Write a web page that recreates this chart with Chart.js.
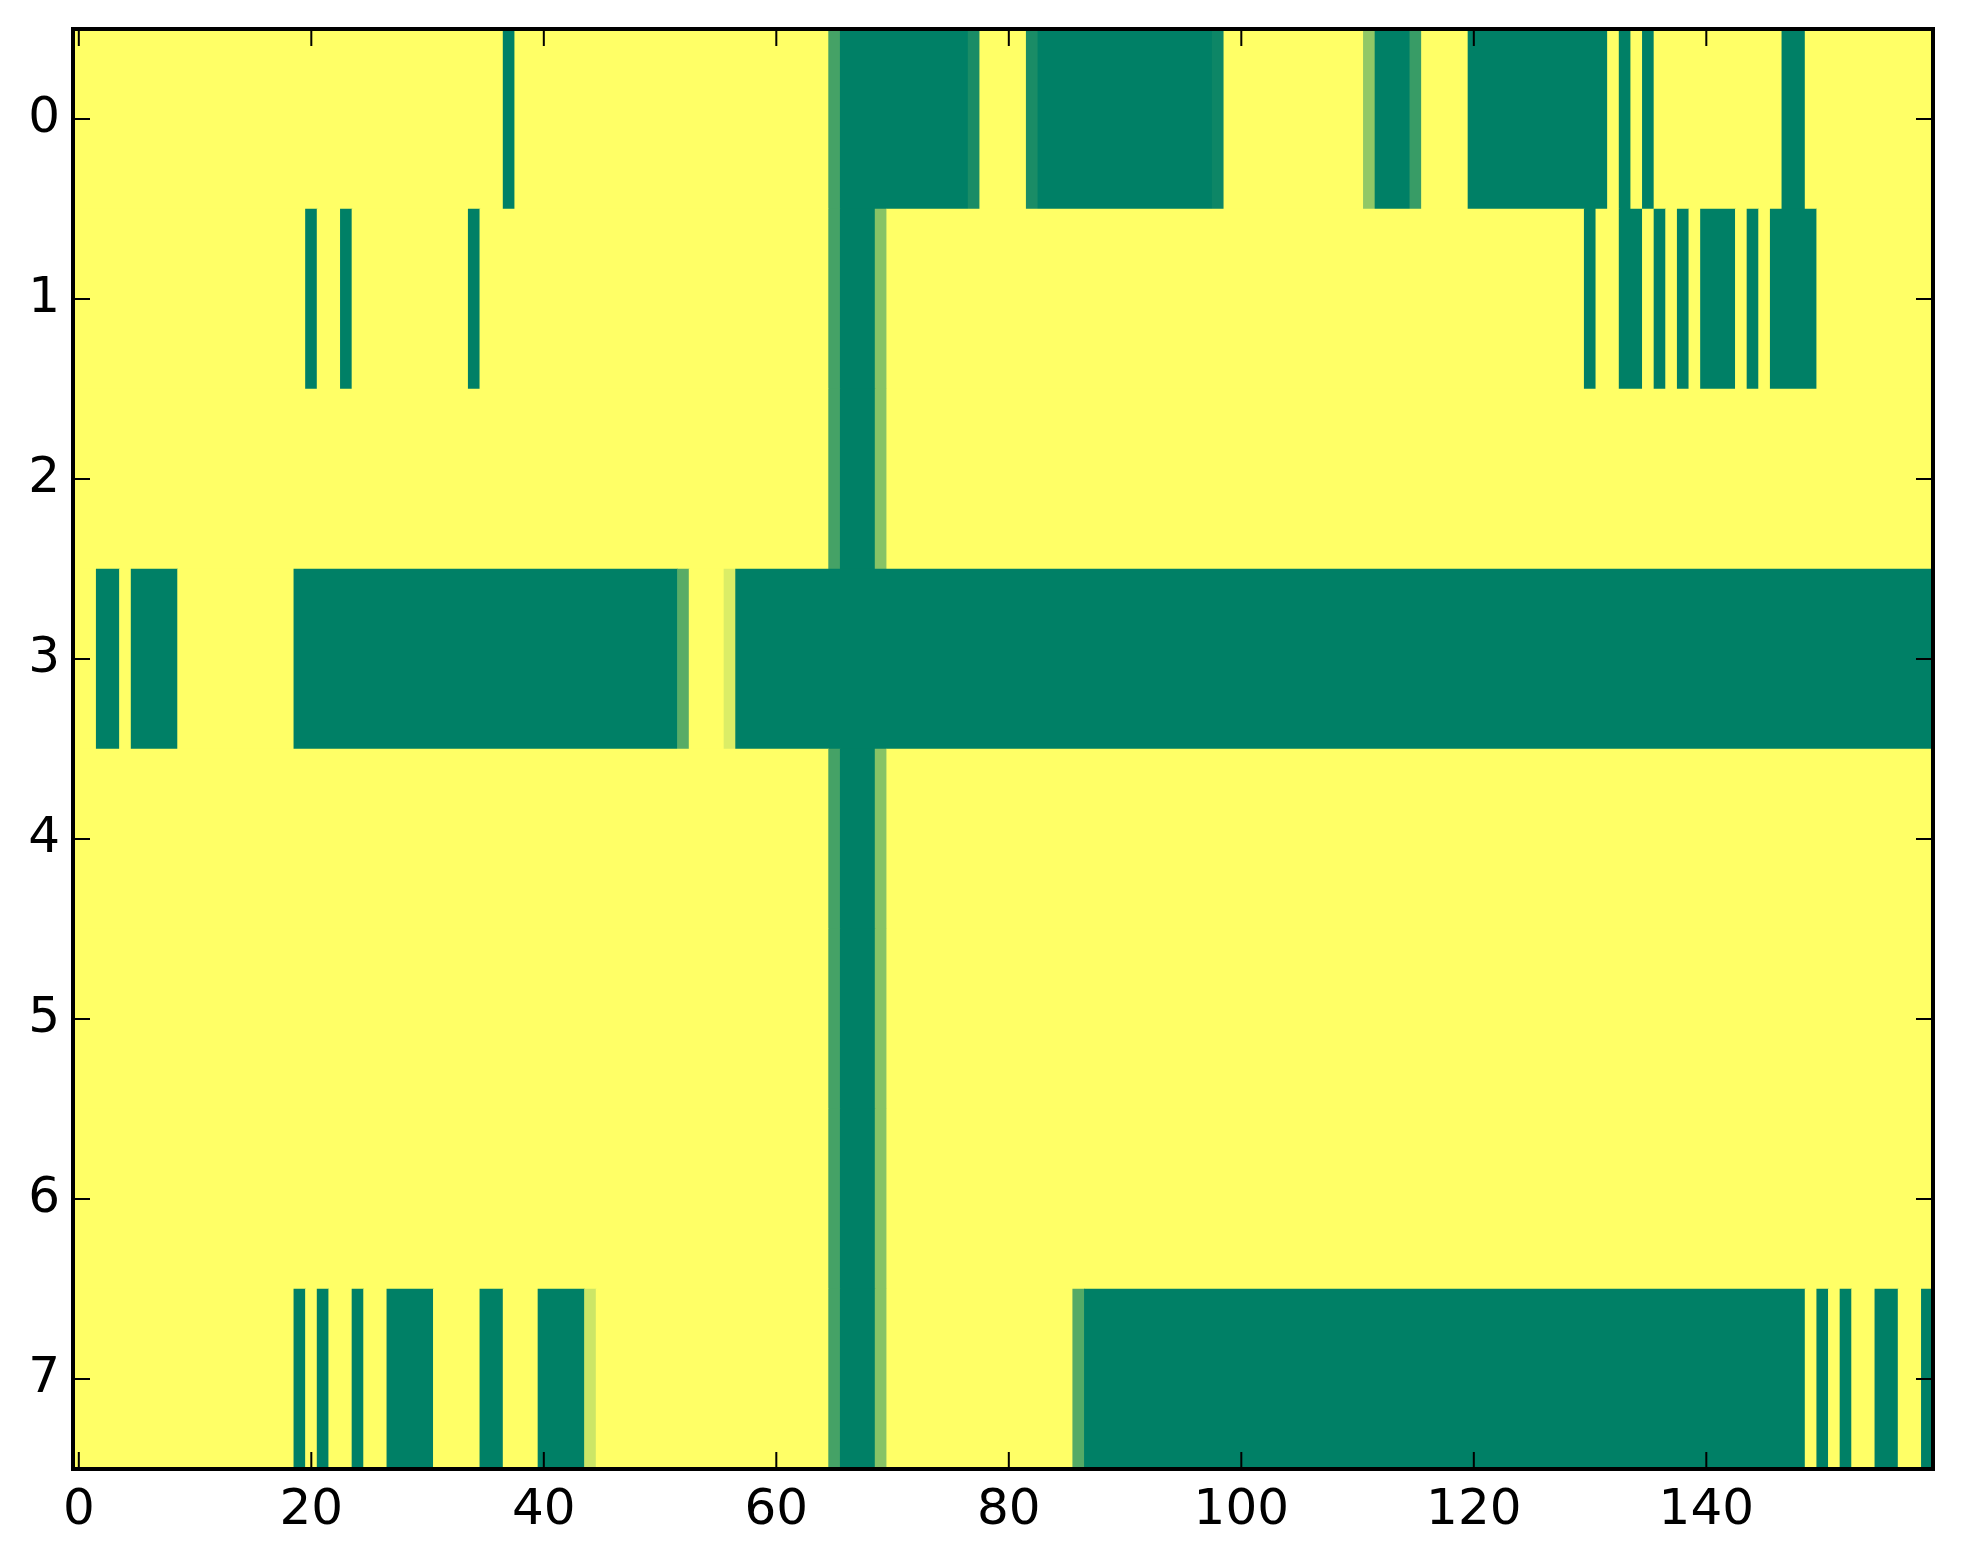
<!DOCTYPE html>
<html>
<head>
<meta charset="utf-8">
<title>heatmap</title>
<script src="https://cdn.jsdelivr.net/npm/chart.js@4.4.1/dist/chart.umd.min.js"></script>
<style>
  html, body { margin: 0; padding: 0; background: #fff; }
  #wrap { width: 1963px; height: 1564px; }
</style>
</head>
<body>
<div id="wrap"><canvas id="heat" width="1963" height="1564"></canvas></div>
<script>
// row labels and tick positions
const rowLabels = ['0', '1', '2', '3', '4', '5', '6', '7'];
const xTicks = [0, 20, 40, 60, 80, 100, 120, 140];
const yTicks = [0, 1, 2, 3, 4, 5, 6, 7];

// one array per row, 160 columns each (20 per line)
const row0 = [
  1,1,1,1,1,1,1,1,1,1, 1,1,1,1,1,1,1,1,1,1,
  1,1,1,1,1,1,1,1,1,1, 1,1,1,1,1,1,1,0,1,1,
  1,1,1,1,1,1,1,1,1,1, 1,1,1,1,1,1,1,1,1,1,
  1,1,1,1,1,0.27,0,0,0,0, 0,0,0,0,0,0,0,0.1,1,1,
  1,1,0.1,0,0,0,0,0,0,0, 0,0,0,0,0,0,0,0,0.05,1,
  1,1,1,1,1,1,1,1,1,1, 1,0.57,0,0,0,0.22,1,1,1,1,
  0,0,0,0,0,0,0,0,0,0, 0,0,1,0,1,0,1,1,1,1,
  1,1,1,1,1,1,1,0,0,1, 1,1,1,1,1,1,1,1,1,1
];
const row1 = [
  1,1,1,1,1,1,1,1,1,1, 1,1,1,1,1,1,1,1,1,1,
  0,1,1,0,1,1,1,1,1,1, 1,1,1,1,0,1,1,1,1,1,
  1,1,1,1,1,1,1,1,1,1, 1,1,1,1,1,1,1,1,1,1,
  1,1,1,1,1,0.27,0,0,0,0.53, 1,1,1,1,1,1,1,1,1,1,
  1,1,1,1,1,1,1,1,1,1, 1,1,1,1,1,1,1,1,1,1,
  1,1,1,1,1,1,1,1,1,1, 1,1,1,1,1,1,1,1,1,1,
  1,1,1,1,1,1,1,1,1,1, 0,1,1,0,0,1,0,1,0,1,
  0,0,0,1,0,1,0,0,0,0, 1,1,1,1,1,1,1,1,1,1
];
const row2 = [
  1,1,1,1,1,1,1,1,1,1, 1,1,1,1,1,1,1,1,1,1,
  1,1,1,1,1,1,1,1,1,1, 1,1,1,1,1,1,1,1,1,1,
  1,1,1,1,1,1,1,1,1,1, 1,1,1,1,1,1,1,1,1,1,
  1,1,1,1,1,0.27,0,0,0,0.53, 1,1,1,1,1,1,1,1,1,1,
  1,1,1,1,1,1,1,1,1,1, 1,1,1,1,1,1,1,1,1,1,
  1,1,1,1,1,1,1,1,1,1, 1,1,1,1,1,1,1,1,1,1,
  1,1,1,1,1,1,1,1,1,1, 1,1,1,1,1,1,1,1,1,1,
  1,1,1,1,1,1,1,1,1,1, 1,1,1,1,1,1,1,1,1,1
];
const row3 = [
  1,1,0,0,1,0,0,0,0,1, 1,1,1,1,1,1,1,1,1,0,
  0,0,0,0,0,0,0,0,0,0, 0,0,0,0,0,0,0,0,0,0,
  0,0,0,0,0,0,0,0,0,0, 0,0,0.35,1,1,1,0.86,0,0,0,
  0,0,0,0,0,0,0,0,0,0, 0,0,0,0,0,0,0,0,0,0,
  0,0,0,0,0,0,0,0,0,0, 0,0,0,0,0,0,0,0,0,0,
  0,0,0,0,0,0,0,0,0,0, 0,0,0,0,0,0,0,0,0,0,
  0,0,0,0,0,0,0,0,0,0, 0,0,0,0,0,0,0,0,0,0,
  0,0,0,0,0,0,0,0,0,0, 0,0,0,0,0,0,0,0,0,0
];
const row4 = [
  1,1,1,1,1,1,1,1,1,1, 1,1,1,1,1,1,1,1,1,1,
  1,1,1,1,1,1,1,1,1,1, 1,1,1,1,1,1,1,1,1,1,
  1,1,1,1,1,1,1,1,1,1, 1,1,1,1,1,1,1,1,1,1,
  1,1,1,1,1,0.27,0,0,0,0.53, 1,1,1,1,1,1,1,1,1,1,
  1,1,1,1,1,1,1,1,1,1, 1,1,1,1,1,1,1,1,1,1,
  1,1,1,1,1,1,1,1,1,1, 1,1,1,1,1,1,1,1,1,1,
  1,1,1,1,1,1,1,1,1,1, 1,1,1,1,1,1,1,1,1,1,
  1,1,1,1,1,1,1,1,1,1, 1,1,1,1,1,1,1,1,1,1
];
const row5 = [
  1,1,1,1,1,1,1,1,1,1, 1,1,1,1,1,1,1,1,1,1,
  1,1,1,1,1,1,1,1,1,1, 1,1,1,1,1,1,1,1,1,1,
  1,1,1,1,1,1,1,1,1,1, 1,1,1,1,1,1,1,1,1,1,
  1,1,1,1,1,0.27,0,0,0,0.53, 1,1,1,1,1,1,1,1,1,1,
  1,1,1,1,1,1,1,1,1,1, 1,1,1,1,1,1,1,1,1,1,
  1,1,1,1,1,1,1,1,1,1, 1,1,1,1,1,1,1,1,1,1,
  1,1,1,1,1,1,1,1,1,1, 1,1,1,1,1,1,1,1,1,1,
  1,1,1,1,1,1,1,1,1,1, 1,1,1,1,1,1,1,1,1,1
];
const row6 = [
  1,1,1,1,1,1,1,1,1,1, 1,1,1,1,1,1,1,1,1,1,
  1,1,1,1,1,1,1,1,1,1, 1,1,1,1,1,1,1,1,1,1,
  1,1,1,1,1,1,1,1,1,1, 1,1,1,1,1,1,1,1,1,1,
  1,1,1,1,1,0.27,0,0,0,0.53, 1,1,1,1,1,1,1,1,1,1,
  1,1,1,1,1,1,1,1,1,1, 1,1,1,1,1,1,1,1,1,1,
  1,1,1,1,1,1,1,1,1,1, 1,1,1,1,1,1,1,1,1,1,
  1,1,1,1,1,1,1,1,1,1, 1,1,1,1,1,1,1,1,1,1,
  1,1,1,1,1,1,1,1,1,1, 1,1,1,1,1,1,1,1,1,1
];
const row7 = [
  1,1,1,1,1,1,1,1,1,1, 1,1,1,1,1,1,1,1,1,0,
  1,0,1,1,0,1,1,0,0,0, 0,1,1,1,1,0,0,1,1,1,
  0,0,0,0,0.8,1,1,1,1,1, 1,1,1,1,1,1,1,1,1,1,
  1,1,1,1,1,0.27,0,0,0,0.53, 1,1,1,1,1,1,1,1,1,1,
  1,1,1,1,1,1,0.33,0,0,0, 0,0,0,0,0,0,0,0,0,0,
  0,0,0,0,0,0,0,0,0,0, 0,0,0,0,0,0,0,0,0,0,
  0,0,0,0,0,0,0,0,0,0, 0,0,0,0,0,0,0,0,0,0,
  0,0,0,0,0,0,0,0,0,1, 0,1,0,1,1,0,0,1,1,0
];
const rows = [row0, row1, row2, row3, row4, row5, row6, row7];

// matplotlib "summer": green (0) -> yellow (1)
function summer(v) {
  let r = Math.round(255 * v);
  let g = Math.round(255 * (0.5 + 0.5 * v));
  return 'rgb(' + r + ',' + g + ',102)';
}

// floating bars, neighbouring cells with the same value joined so no seams show
let cells = [];
let colors = [];
rows.forEach(function (values, r) {
  let start = 0;
  for (let c = 1; c <= values.length; c++) {
    if (c === values.length || values[c] !== values[start]) {
      cells.push({ x: [start - 0.5, c - 0.5], y: r });
      colors.push(summer(values[start]));
      start = c;
    }
  }
});

// frame plus inward ticks on all four sides
const frameTicks = {
  id: 'frameTicks',
  afterDraw(chart) {
    const ctx = chart.ctx;
    const a = chart.chartArea;
    const xs = chart.scales.x;
    const ys = chart.scales.y;
    const len = 17;
    ctx.save();
    ctx.strokeStyle = '#000';
    ctx.lineWidth = 2;
    ctx.beginPath();
    xTicks.forEach(function (v) {
      let px = xs.getPixelForValue(v);
      ctx.moveTo(px, a.bottom);
      ctx.lineTo(px, a.bottom - len);
      ctx.moveTo(px, a.top);
      ctx.lineTo(px, a.top + len);
    });
    yTicks.forEach(function (v) {
      let py = ys.getPixelForValue(v);
      ctx.moveTo(a.left, py);
      ctx.lineTo(a.left + len, py);
      ctx.moveTo(a.right, py);
      ctx.lineTo(a.right - len, py);
    });
    ctx.stroke();
    ctx.lineWidth = 4;
    ctx.strokeRect(a.left, a.top, a.right - a.left, a.bottom - a.top);
    ctx.restore();
  },
};

Chart.defaults.font.family = '"DejaVu Sans", sans-serif';
Chart.defaults.color = '#000';

new Chart(document.getElementById('heat'), {
  type: 'bar',
  data: {
    datasets: [
      {
        data: cells,
        backgroundColor: colors,
        borderWidth: 0,
        barPercentage: 1,
        categoryPercentage: 1,
      },
    ],
  },
  options: {
    indexAxis: 'y',
    responsive: false,
    animation: false,
    devicePixelRatio: 1,
    events: [],
    layout: { padding: { top: 29, right: 30, bottom: 0, left: 0 } },
    plugins: {
      legend: { display: false },
      tooltip: { enabled: false },
    },
    scales: {
      x: {
        type: 'linear',
        position: 'bottom',
        min: -0.5,
        max: 159.5,
        offset: false,
        grid: { display: false, drawTicks: false },
        border: { display: false },
        ticks: { color: '#000', font: { size: 50 }, padding: 12, maxRotation: 0 },
        afterBuildTicks: function (axis) {
          axis.ticks = xTicks.map(function (v) { return { value: v }; });
        },
        afterFit: function (scale) {
          scale.height = 95;
          scale.paddingLeft = 0;
          scale.paddingRight = 0;
        },
      },
      y: {
        type: 'linear',
        position: 'left',
        reverse: true,
        min: -0.5,
        max: 7.5,
        offset: false,
        grid: { display: false, drawTicks: false },
        border: { display: false },
        ticks: {
          color: '#000',
          font: { size: 50 },
          padding: 13,
          callback: function (v) { return rowLabels[v]; },
        },
        afterBuildTicks: function (axis) {
          axis.ticks = yTicks.map(function (v) { return { value: v }; });
        },
        afterFit: function (scale) {
          scale.width = 73;
          scale.paddingTop = 0;
          scale.paddingBottom = 0;
        },
      },
    },
  },
  plugins: [frameTicks],
});
</script>
</body>
</html>
